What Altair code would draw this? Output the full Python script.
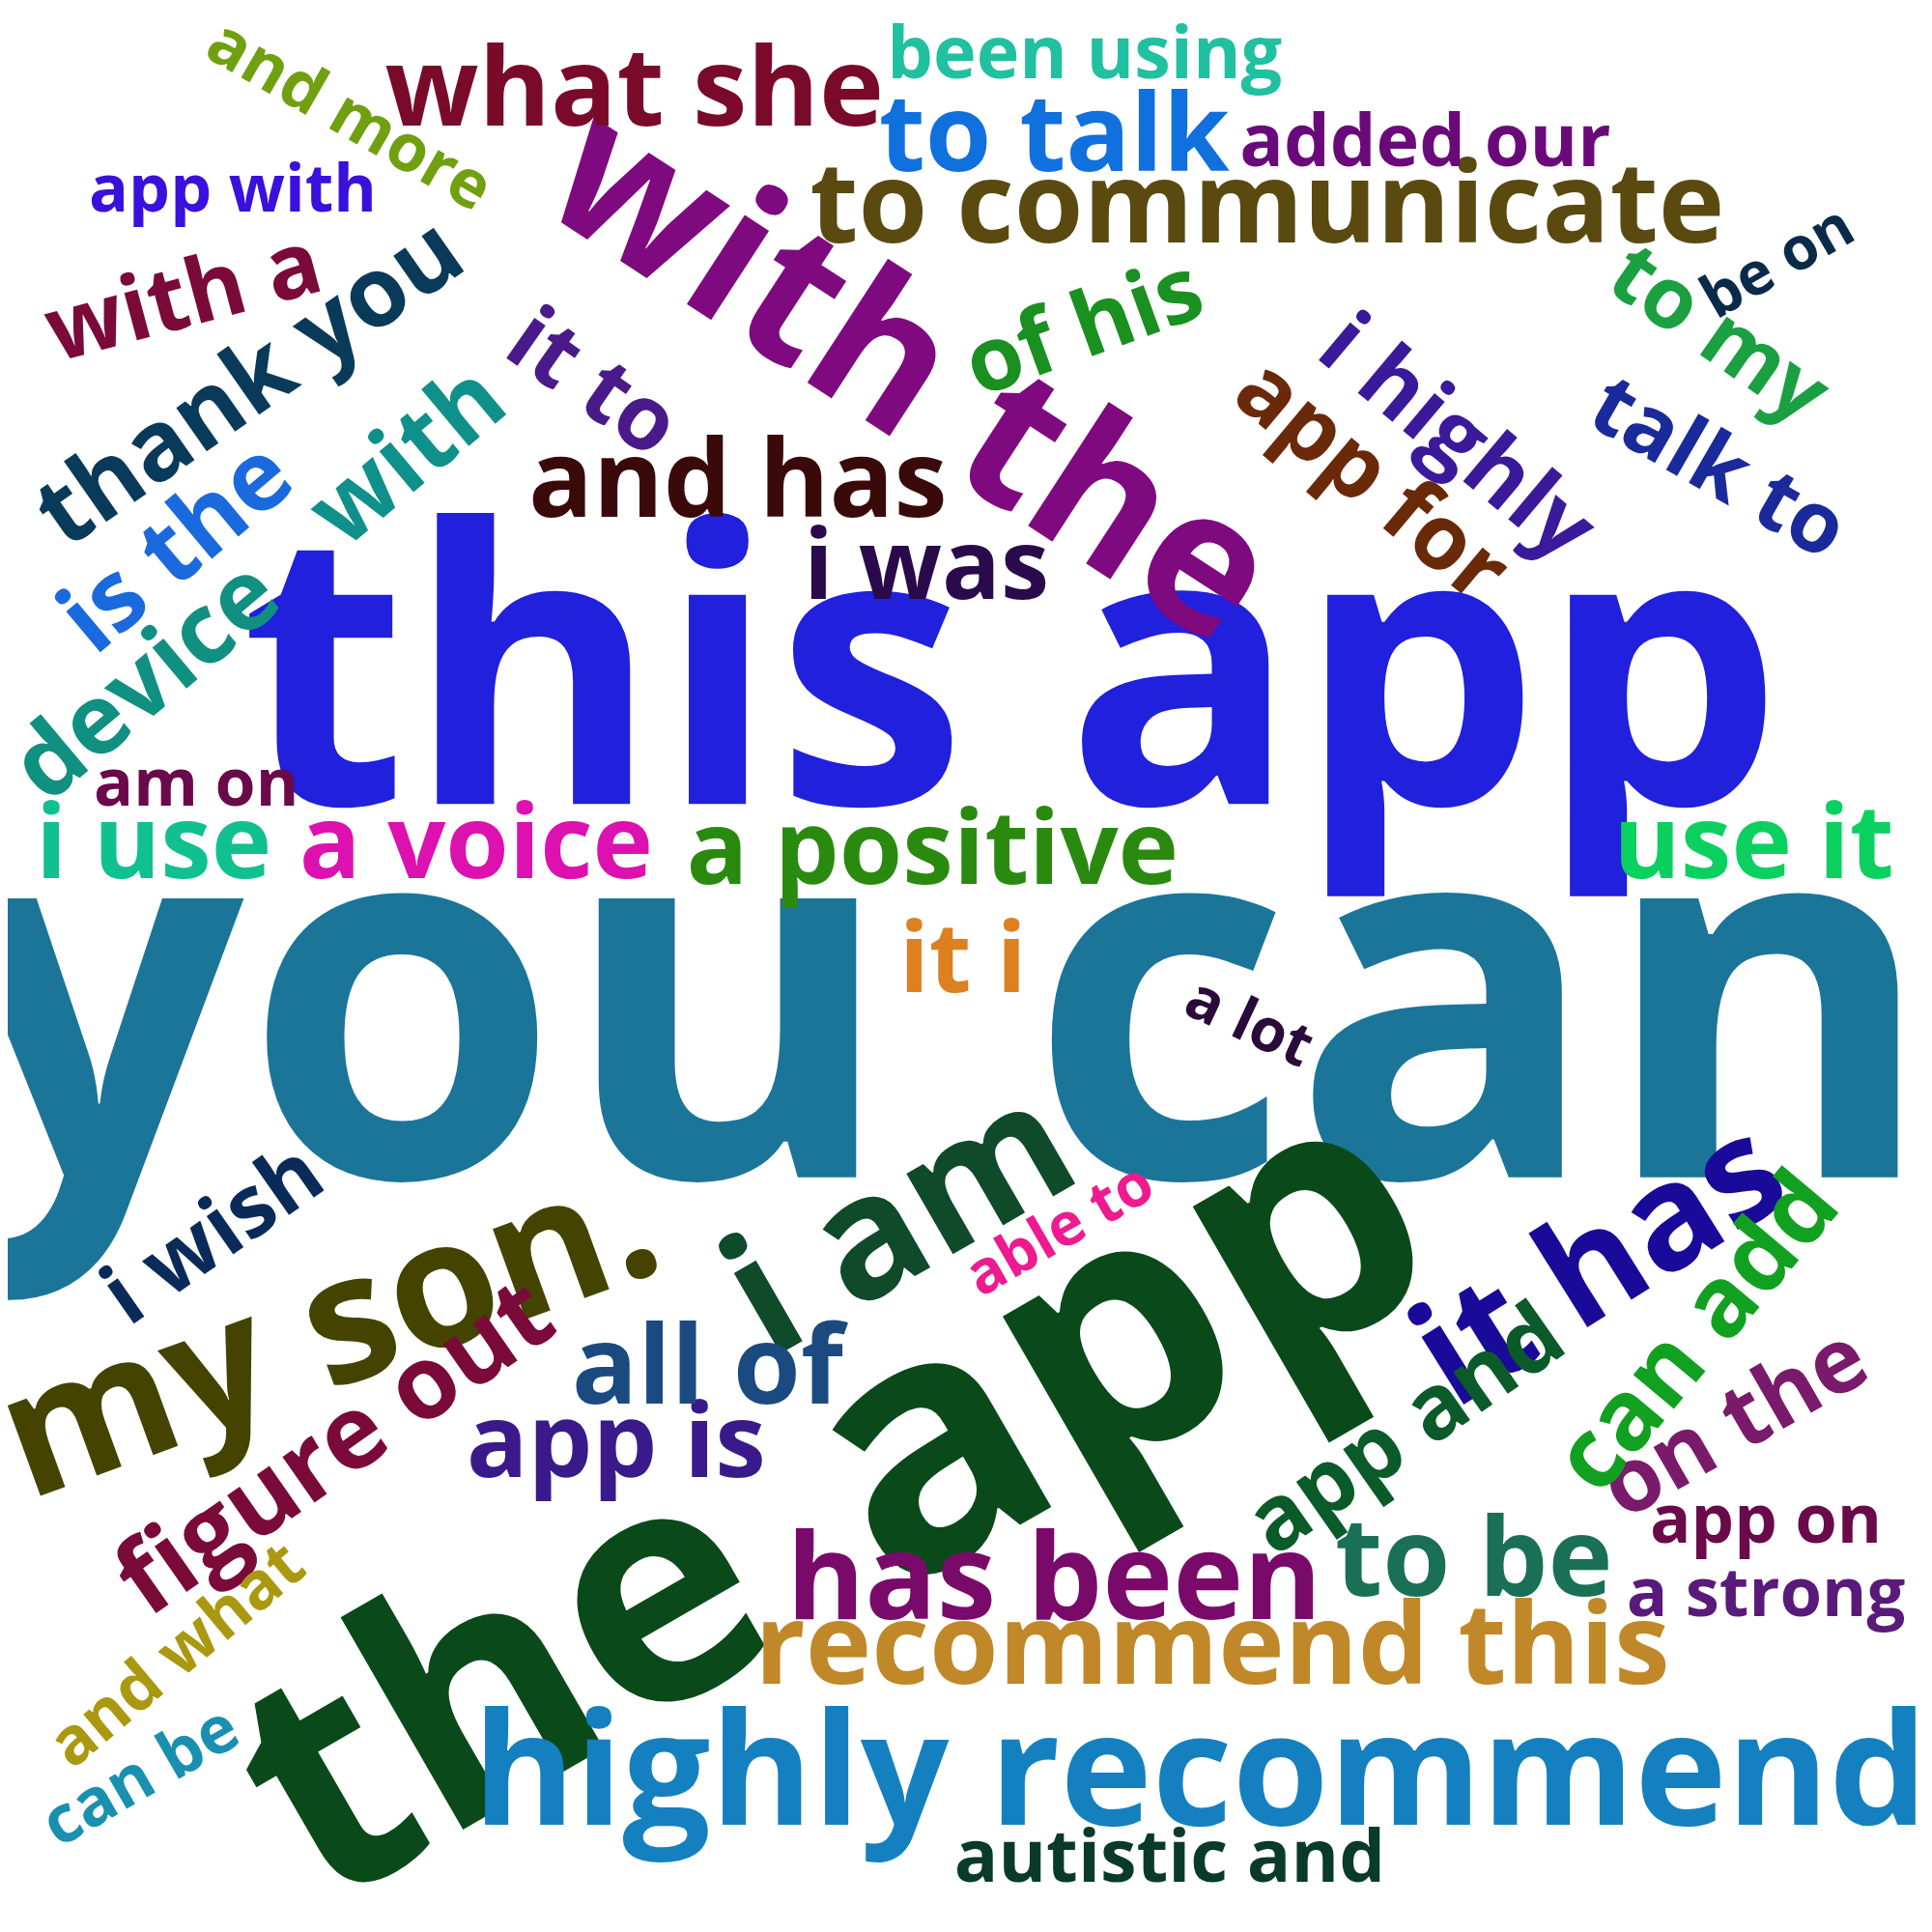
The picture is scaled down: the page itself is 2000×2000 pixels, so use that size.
import pandas as pd
import altair as alt

words = ["this app", "you can", "with the", "app", "the", "i am", "my son.", "it has",
         "highly recommend", "recommend this", "has been", "to be", "app is", "all of",
         "figure out", "and what", "can be", "autistic and", "a strong", "app on",
         "on the", "can add", "app and", "able to", "i wish", "a lot", "it i", "use it",
         "a positive", "a voice", "i use", "am on", "device", "is the", "with",
         "thank you", "with a", "it to", "and has", "i was", "of his", "app for",
         "i highly", "talk to", "to my", "be on", "to communicate", "added our",
         "to talk", "been using", "what she", "and more", "app with"]
xs = [825, 770, 740, 915, 410, 735, 265, 1310, 980, 990, 860, 1205, 500, 575,
      270, 140, 110, 955, 1445, 1445, 1420, 1390, 1150, 865, 170, 1020, 785, 1435,
      760, 385, 120, 155, 115, 140, 330, 200, 145, 480, 600, 755, 885, 1120,
      1190, 1405, 1405, 1455, 1035, 1165, 860, 885, 515, 280, 185]
ys = [560, 835, 305, 1100, 1385, 1000, 1090, 1035, 1455, 1350, 1295, 1278, 1182, 1120,
      1185, 1355, 1455, 1522, 1305, 1245, 1165, 1090, 1170, 1005, 1010, 835, 785, 690,
      695, 690, 690, 640, 555, 445, 370, 310, 240, 310, 392, 462, 265, 390,
      355, 380, 270, 210, 165, 112, 108, 40, 70, 90, 152]
sizes = [315, 420, 160, 285, 265, 140, 145, 120, 128, 92, 98, 90, 84, 90,
         84, 54, 54, 60, 56, 56, 74, 80, 74, 49, 70, 49, 80, 84,
         84, 84, 84, 54, 80, 80, 80, 80, 74, 74, 88, 80, 74, 74,
         74, 70, 70, 49, 92, 60, 88, 60, 90, 54, 54]
angles = [0, 0, 33, 330, 330, 330, 340, 328, 0, 0, 0, 0, 0, 0,
          325, 320, 330, 0, 0, 0, 330, 310, 325, 330, 325, 25, 0, 0,
          0, 0, 0, 0, 320, 320, 320, 325, 345, 35, 0, 0, 340, 40,
          40, 30, 35, 330, 0, 0, 0, 0, 0, 30, 0]
colors = ["#2020DD", "#1B7599", "#7F0A7F", "#0A4A1A", "#0A4A1A", "#0F4A2A", "#444400", "#1A0A99",
          "#1580C0", "#C08828", "#7A0A6A", "#1A7055", "#3A1A8A", "#1A4A80",
          "#7A0A3A", "#AA9910", "#1A90B0", "#0A3A2A", "#5A1A7A", "#6A0A4A",
          "#7A1A6A", "#12A020", "#0A5A2A", "#EE1A90", "#0A2A5A", "#2A0A3A", "#DD8020", "#0AD060",
          "#2A8A10", "#DD10B0", "#10C090", "#6A0A4A", "#109080", "#1A6ADD", "#10908A",
          "#0A3A5A", "#7A0A3A", "#4A1A8A", "#3A0A0A", "#2A0A4A", "#1A9020", "#6A2A0A",
          "#3A1A9A", "#1A2A9A", "#1AA040", "#0A2A4A", "#5A4A10", "#6A0A7A",
          "#1070DD", "#20C0A0", "#7A0A2A", "#70A010", "#3A10DD"]

df = pd.DataFrame({"word": words, "x": xs, "y": ys, "size": sizes,
                   "angle": angles, "color": colors})

W = 1975
chart = (
    alt.Chart(df)
    .mark_text(font="Open Sans", fontWeight="bold", align="center", baseline="middle")
    .encode(
        x=alt.X("x:Q", scale=alt.Scale(domain=[0, 1568], range=[0, W]), axis=None),
        y=alt.Y("y:Q", scale=alt.Scale(domain=[0, 1568], range=[0, W]), axis=None),
        size=alt.Size("size:Q", scale=alt.Scale(domain=[0, 100], range=[0, 100 * W / 1568]), legend=None),
        angle=alt.Angle("angle:Q", scale=None),
        color=alt.Color("color:N", scale=None),
        text="word:N",
    )
    .properties(width=W, height=W, autosize=alt.AutoSizeParams(type="none"), padding=0)
    .configure_view(stroke=None)
)

chart.save("out.html", embed_options={"renderer": "svg", "actions": False})
